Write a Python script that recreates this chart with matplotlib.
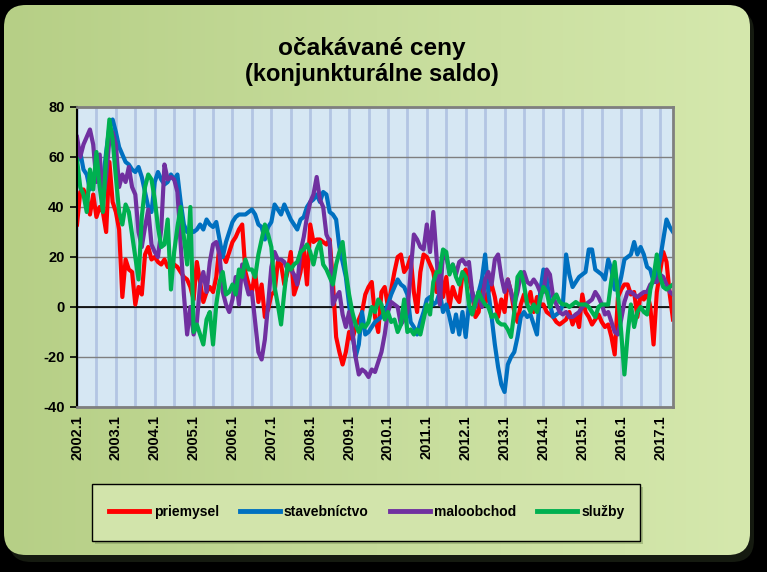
import matplotlib.pyplot as plt
import numpy as np
from matplotlib.patches import FancyBboxPatch, Rectangle
from matplotlib.lines import Line2D
from matplotlib.colors import LinearSegmentedColormap

# monthly values 2002.1 - 2017.5
priemysel = [
    33, 46, 47, 44, 37, 45, 36, 40, 38, 30, 58, 42,      # 2002
    38, 31, 4, 19, 15, 14, 1, 8, 5, 21, 24, 19,          # 2003
    20, 18, 17, 19, 16, 18, 17, 16, 14, 12, 11, 8,       # 2004
    3, 18, 10, 2, 6, 8, 6, 12, 25, 21, 18, 22,           # 2005
    26, 28, 31, 33, 14, 9, 6, 14, 2, 9, -4, -1,          # 2006
    5, 6, 18, 17, 9, 14, 22, 5, 9, 14, 23, 9,            # 2007
    33, 26, 27, 27, 26, 25, 27, 10, -12, -18, -23, -18,  # 2008
    -10, -13, -8, -5, -2, 5, 8, 10, -4, -10, 6, 8,       # 2009
    0, 7, 14, 20, 21, 14, 16, 20, 6, -2, 14, 21,         # 2010
    20, 17, 14, 6, 17, 4, 12, 0, 8, 4, 2, 13,            # 2011
    15, 12, 6, -4, -2, 11, 1, 6, 9, 4, -4, 3,            # 2012
    -2, 11, 6, -2, -6, 1, 5, 1, 6, -2, 4, 1,             # 2013
    1, -2, -3, -4, -6, -7, -6, -5, -2, -7, -3, -8,       # 2014
    5, -2, -4, -7, -5, -3, -6, -8, -7, -12, -19, 4,      # 2015
    7, 9, 9, 5, 6, -4, 5, 3, 6, 0, -15, 6,               # 2016
    14, 22, 18, 5, -5,                                   # 2017
]
stavebnictvo = [
    58, 62, 55, 53, 47, 50, 55, 54, 50, 62, 72, 75,
    70, 64, 61, 58, 57, 55, 54, 56, 52, 46, 40, 38,
    50, 54, 51, 49, 50, 53, 51, 53, 42, 33, 30, 31,
    30, 31, 33, 31, 35, 33, 32, 34, 27, 20, 26, 30,
    34, 36, 37, 37, 37, 38, 39, 37, 33, 32, 27, 32,
    34, 41, 39, 37, 41, 38, 35, 33, 31, 35, 36, 40,
    42, 43, 45, 42, 46, 45, 38, 37, 35, 24, 18, 12,
    1, -10, -20, -15, -2, -11, -10, -8, -6, -5, -4, -2,
    1, 5, 8, 11, 9, 8, 5, -6, -8, -11, -6, -2,
    3, 4, 1, 2, 6, -2, 1, -4, -10, -3, -11, -2,
    -12, 1, 6, 1, 6, 11, 21, 6, -4, -15, -24, -31,
    -34, -23, -20, -18, -12, -4, -2, -4, -3, -7, -11, 6,
    15, 12, 1, -4, -3, -2, 1, 21, 13, 8, 10, 12,
    13, 14, 23, 23, 15, 14, 13, 11, 19, 15, 7, 7,
    12, 19, 20, 21, 26, 21, 24, 21, 16, 15, 10, 13,
    19, 27, 35, 32, 30,
]
maloobchod = [
    68, 60, 65, 68, 71, 65, 50, 61, 43, 52, 67, 70,
    65, 48, 53, 50, 56, 48, 45, 30, 24, 32, 39, 25,
    22, 20, 31, 57, 51, 52, 51, 46, 25, 5, -11, 0,
    -11, -6, 9, 14, 6, 18, 25, 26, 21, 6, 1, -2,
    3, 12, 1, 17, 10, 5, 6, -6, -18, -21, -13, 1,
    16, 22, 19, 19, 18, 15, 15, 13, 9, 22, 28, 36,
    42, 45, 52, 43, 40, 29, 26, 1, 4, 6, -3, -8,
    -2, -10, -20, -27, -25, -26, -28, -25, -26, -22, -18, -11,
    -2, 2, 1, 0, -7, -5, -2, 14, 29, 27, 24, 23,
    33, 22, 38, 20, 1, 22, 20, 14, 17, 13, 18, 19,
    17, 18, 6, 0, 6, 0, 11, 14, 9, 19, 21, 12,
    6, 11, 6, 1, 6, 13, 14, 10, 9, 11, 9, 6,
    6, 15, 13, 4, 1, -2, -3, -2, -4, -4, -3, -2,
    0, 1, 2, 3, 6, 4, 1, -3, -2, -6, -10, -11,
    -5, 2, 6, 6, 5, 4, 5, 6, 6, 9, 10, 10,
    13, 12, 9, 6, 5,
]
sluzby = [
    59, 48, 45, 38, 55, 47, 62, 48, 38, 60, 75, 67,
    52, 38, 33, 41, 38, 29, 20, 11, 36, 48, 53, 51,
    43, 32, 24, 25, 35, 7, 22, 32, 40, 28, 17, 40,
    -10, -7, -11, -15, -5, -2, -15, 1, 10, 14, 5, 6,
    9, 5, 15, 12, 19, 15, 15, 12, 21, 27, 33, 29,
    24, 8, 1, -7, 6, 17, 15, 17, 18, 22, 23, 25,
    22, 17, 23, 26, 17, 15, 12, 9, 17, 22, 26, 14,
    5, -2, -7, -10, -7, -8, -6, 0, -2, 3, 1, -5,
    -2, -6, -5, -10, -7, 3, -10, -9, -11, -9, -11, -5,
    1, -3, 10, 14, 14, 23, 22, 13, 17, 12, 9, 14,
    12, 1, -3, 2, 6, 3, 1, 0, -4, -3, -6, -7,
    -7, -9, -12, -2, 12, 14, 9, 1, -2, 1, -2, 3,
    8, 6, 0, 3, 5, 2, 1, 1, 0, 1, 2, 1,
    1, 1, 0, -2, -4, 0, 1, 1, 1, 11, 18, 5,
    -10, -27, -11, 1, -8, -2, 0, -2, -3, 7, 12, 21,
    12, 8, 7, 8, 9,
]
year_labels = [f"{y}.1" for y in range(2002, 2018)]
names = ["priemysel", "stavebníctvo", "maloobchod", "služby"]
colors = ["#ff0000", "#0070c0", "#7030a0", "#00b050"]

W, H = 767, 572
fig = plt.figure(figsize=(W / 100, H / 100), dpi=100)
fig.patch.set_facecolor("black")

# background card (pixel coordinates)
bg = fig.add_axes([0, 0, 1, 1])
bg.axis("off")
shadow = FancyBboxPatch((9, 10), 745, 552, boxstyle="round,pad=0,rounding_size=22",
                        fc="#151a10", ec="none", zorder=0.1)
bg.add_patch(shadow)
card = FancyBboxPatch((4, 5), 746, 550, boxstyle="round,pad=0,rounding_size=22",
                      fc="none", ec="none")
bg.add_patch(card)
cmap = LinearSegmentedColormap.from_list("g", ["#b6cf86", "#c6dc9b", "#d5e8ad"])
grad = np.linspace(0, 1, 256).reshape(1, -1)
im = bg.imshow(grad, extent=(4, 750, 555, 5), cmap=cmap, aspect="auto", zorder=0.5)
im.set_clip_path(card)

# legend box
bg.add_patch(Rectangle((95, 487), 548, 57, fc="#7f975c", ec="none", alpha=0.5, zorder=1))
bg.add_patch(Rectangle((92, 484), 548, 57, fc="#d2e4ab", ec="black", lw=1, zorder=2))
bg.set_xlim(0, W)
bg.set_ylim(H, 0)

# main plot
ax = fig.add_axes([77 / W, 1 - 407 / H, 596 / W, 300 / H])
ax.set_facecolor("#d6e7f3")
x = np.arange(len(priemysel))
for vals, c in zip([priemysel, stavebnictvo, maloobchod, sluzby], colors):
    ax.plot(x, vals, color=c, lw=3, solid_joinstyle="round")

ax.set_xlim(0, len(x) - 1)
ax.set_ylim(-40, 80)
ax.set_yticks(range(-40, 81, 20))
ax.set_xticks(range(0, len(x), 12))
ax.set_xticks(range(0, len(x), 6), minor=True)
ax.set_xticklabels(year_labels, rotation=90, fontsize=10.5, fontweight="bold",
                   family="Liberation Sans")
ax.set_yticklabels([str(v) for v in range(-40, 81, 20)], fontsize=10.5,
                   fontweight="bold", family="Liberation Sans")
ax.tick_params(axis="x", which="both", length=0, pad=6)
ax.tick_params(axis="y", length=5, width=1.2, pad=4, direction="out")
ax.grid(axis="x", which="both", color="#b3c5e3", lw=2)
ax.grid(axis="y", color="#7f7f7f", lw=1)
ax.axhline(0, color="black", lw=1.2, zorder=1.5)
ax.set_axisbelow(True)
for s in ["top", "right", "bottom"]:
    ax.spines[s].set_color("#7f7f7f")
    ax.spines[s].set_linewidth(2)
ax.spines["left"].set_color("black")
ax.spines["left"].set_linewidth(1.5)

# titles
fig.text(372 / W, 1 - 48 / H, "očakávané ceny", ha="center", va="center",
         fontsize=17.6, fontweight="bold", family="Liberation Sans")
fig.text(372 / W, 1 - 75 / H, "(konjunkturálne saldo)", ha="center", va="center",
         fontsize=17, fontweight="bold", family="Liberation Sans")

handles = [Line2D([], [], color=c, lw=3.5) for c in colors]
fig.legend(handles, names, loc="center", bbox_to_anchor=(367 / W, 1 - 512 / H),
           ncol=4, frameon=False, handlelength=2.9, handletextpad=0.3,
           columnspacing=1.5, prop=dict(weight="bold", size=10, family="Liberation Sans"))

fig.savefig("out.png", dpi=100, facecolor=fig.get_facecolor())
